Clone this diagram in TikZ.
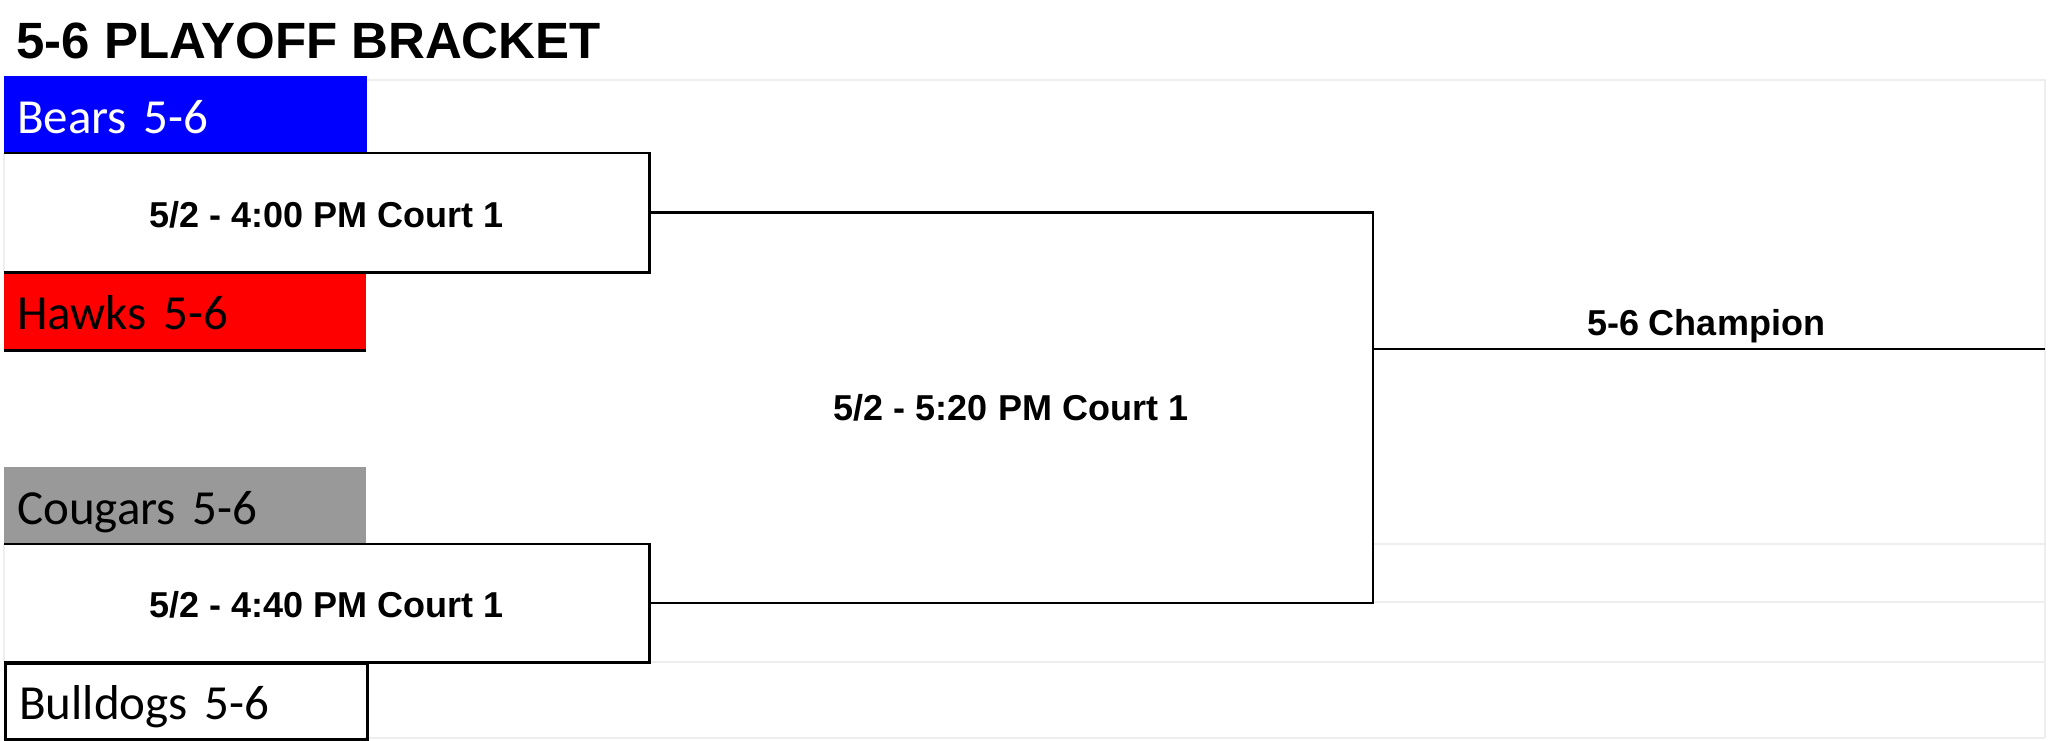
\documentclass[tikz,border=0pt]{standalone}
\usepackage{fontspec}
\setmainfont{Carlito}
\newfontfamily\arialfont{Liberation Sans}
\usepackage{xcolor}
\usepackage{tikz}
\definecolor{bearsblue}{HTML}{0000FF}
\definecolor{hawksred}{HTML}{FF0000}
\definecolor{cougarsgray}{HTML}{999999}
\definecolor{gridgray}{HTML}{EEEEEE}

\begin{document}
\begin{tikzpicture}[x=1pt,y=-1pt]
        \tikzstyle{team}=[rectangle,anchor=north west,minimum width=362pt,minimum height=77pt,inner xsep=13pt,inner ysep=0pt,text height=40pt,text depth=3pt,text width=336pt,align=left,font=\fontsize{49}{55}\selectfont]
        \tikzstyle{gamefont}=[font=\arialfont\bfseries\fontsize{36}{40}\selectfont]
        \tikzstyle{game}=[rectangle,anchor=north west,minimum width=645pt,inner sep=0pt,text height=29pt,text depth=0pt,gamefont]
        \tikzstyle{grid}=[draw=gridgray,line width=1.5pt]
        \tikzstyle{bracket}=[draw=black,line width=2.5pt]

        \fill[white] (0,0) rectangle (2048,741);
        \useasboundingbox (0,0) rectangle (2048,741);

        % faint sheet lines
        \draw[grid] (366,80) -- (2045,80) -- (2045,738);
        \draw[grid] (1373,544) -- (2045,544);
        \draw[grid] (1373,602) -- (2045,602);
        \draw[grid] (649,662) -- (2045,662);
        \draw[grid] (364,738) -- (2045,738);

        \draw node at (16,59) [anchor=base west,inner sep=0pt,font=\arialfont\bfseries\fontsize{51}{60}\selectfont] (title) {5-6 PLAYOFF BRACKET};

        \draw node at (4,76) [team,fill=bearsblue,draw=bearsblue,text=white] (bears) {Bears 5-6};
        \draw node at (4,153) [game,minimum height=119pt] (g1) {5/2 - 4:00 PM Court 1};
        \draw node at (4,272) [team,fill=hawksred,minimum height=78pt] (hawks) {Hawks 5-6};
        \draw node at (4,467) [team,fill=cougarsgray] (cougars) {Cougars 5-6};
        \draw node at (4,544) [game,minimum height=118pt] (g2) {5/2 - 4:40 PM Court 1};
        \draw node at (4,662) [team,draw=black,line width=2.5pt,minimum height=76pt,text width=334pt] (bulldogs) {Bulldogs 5-6};

        \draw node at (1011,420) [anchor=base,inner sep=0pt,gamefont] (g3) {5/2 - 5:20 PM Court 1};
        \draw node at (1706,335) [anchor=base,inner sep=0pt,gamefont] (champ) {5-6 Champion};
        \coordinate (join) at (1373,349);
        \coordinate (champend) at (2045,349);

        \draw[grid] (g1.north west) -- (g1.south west);
        \draw[grid] (g2.north west) -- (g2.south west);
        \draw[bracket] (g1.north west) -- (g1.north east) -- (g1.south east) -- (g1.south west);
        \draw[bracket] (g2.north west) -- (g2.north east) -- (g2.south east) -- (g2.south west);
        \draw[bracket] (hawks.south west) -- (hawks.south east);

        \draw[bracket] (g1.east) -| (join) |- (g2.east);
        \draw[bracket] (join) -- (champend);
\end{tikzpicture}
\end{document}
